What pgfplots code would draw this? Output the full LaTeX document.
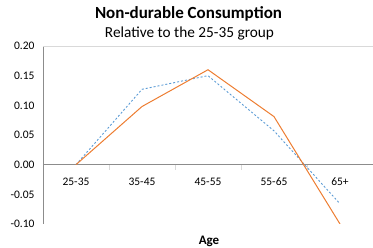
\documentclass[border=0pt]{standalone}
\usepackage{pgfplots}
\pgfplotsset{compat=1.18}
\usepackage{fontspec}
\setmainfont{Carlito}
\definecolor{xlorange}{HTML}{ED7D31}
\definecolor{xlblue}{HTML}{5B9BD5}
\definecolor{axgray}{HTML}{8C8C8C}
\definecolor{lightgray}{HTML}{D9D9D9}
\begin{document}
\begin{tikzpicture}[x=1pt,y=1pt]
\useasboundingbox (0,0) rectangle (373,248);
\node[font=\fontsize{17}{19}\selectfont\bfseries, anchor=base] at (188.5,229.7) {Non-durable Consumption};
\node[font=\fontsize{15.3}{17}\selectfont, anchor=base] at (189.5,210.3) {Relative to the 25-35 group};
\node[font=\fontsize{13}{15}\selectfont\bfseries, anchor=base] at (209,3.5) {Age};
\begin{axis}[
  at={(43pt,24pt)}, anchor=south west,
  scale only axis, width=330pt, height=178pt,
  xmin=-0.5, xmax=4.5, ymin=-0.1, ymax=0.2,
  axis x line*=middle, axis y line*=left,
  axis line style={axgray, line width=0.8pt},
  xtick={0,1,2,3,4},
  xticklabels={25-35,35-45,45-55,55-65,65+},
  minor xtick={-0.5,0.5,1.5,2.5,3.5,4.5},
  major tick length=0pt,
  minor tick length=5pt,
  tick align=outside,
  minor tick style={lightgray, line width=0.6pt},
  xticklabel style={font=\fontsize{11.5}{13}\selectfont, yshift=-10pt},
  ytick={-0.1,-0.05,0,0.05,0.1,0.15,0.2},
  /pgf/number format/fixed, /pgf/number format/fixed zerofill, /pgf/number format/precision=2, /pgf/number format/assume math mode=true,
  yticklabel style={font=\fontsize{11.5}{13}\selectfont, xshift=-5pt},
  ytick style={draw=none},
  clip=true,
]
\draw[lightgray, line width=0.8pt] (axis cs:-0.5,0.2) -- (axis cs:4.5,0.2);
\draw[axgray!80, line width=0.8pt] (axis cs:-0.5,-0.1) -- (axis cs:4.5,-0.1);
\addplot[xlblue, line width=0.9pt, dash pattern=on 2pt off 2pt] coordinates {(0,0) (1,0.127) (2,0.150) (3,0.057) (4,-0.066)};
\addplot[xlorange, line width=1pt] coordinates {(0,0) (1,0.098) (2,0.160) (3,0.081) (4,-0.100)};
\end{axis}
\end{tikzpicture}
\end{document}
